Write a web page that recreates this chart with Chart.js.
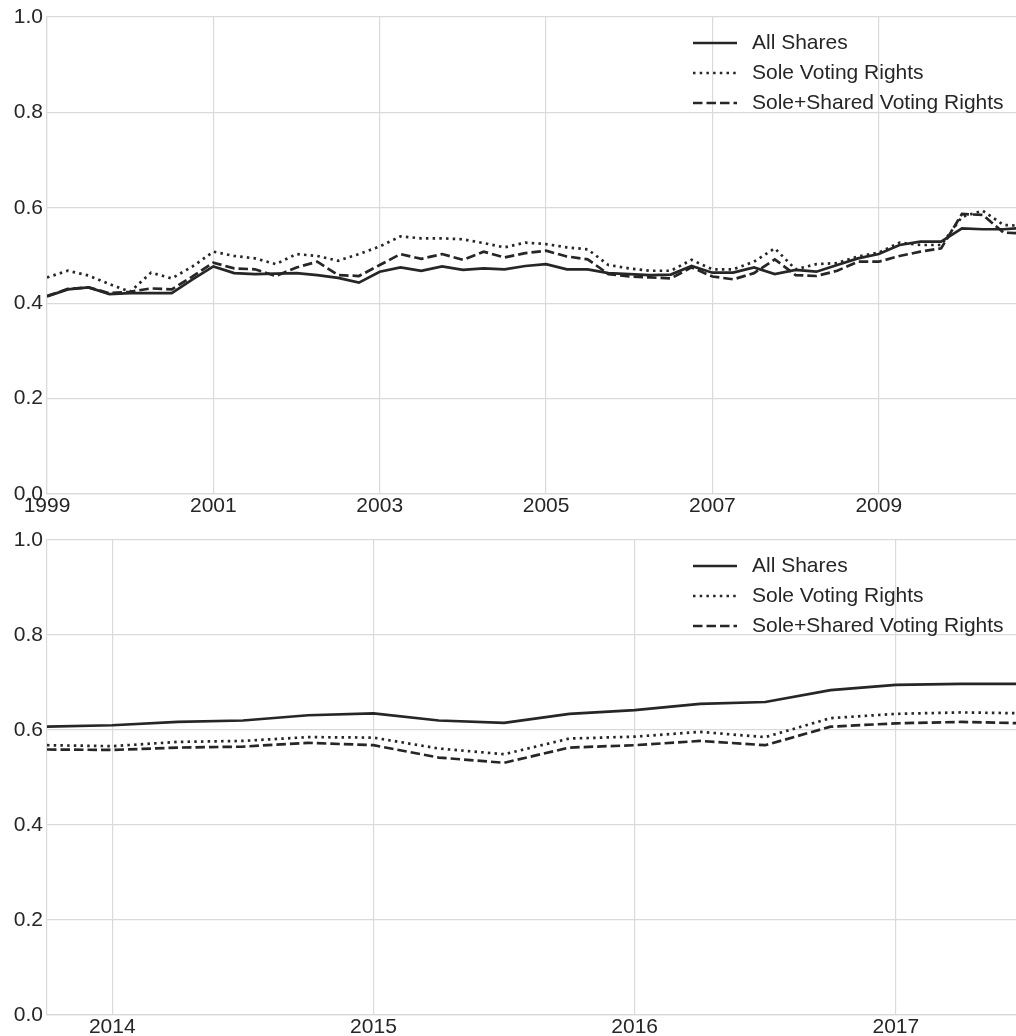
<!DOCTYPE html>
<html>
<head>
<meta charset="utf-8">
<script src="https://cdn.jsdelivr.net/npm/chart.js@4.4.1/dist/chart.umd.min.js"></script>
<style>
  html, body { margin: 0; padding: 0; background: #fff; overflow: hidden; }
  canvas { position: absolute; left: 0; }
  #c1 { top: 0; }
  #c2 { top: 520px; }
</style>
</head>
<body>
<canvas id="c1" width="1016" height="520"></canvas>
<canvas id="c2" width="1016" height="516"></canvas>
<script>
// top panel, quarterly 1999-2010
const quartersTop = [
  1999.00, 1999.25, 1999.50, 1999.75, 2000.00, 2000.25, 2000.50, 2000.75,
  2001.00, 2001.25, 2001.50, 2001.75, 2002.00, 2002.25, 2002.50, 2002.75,
  2003.00, 2003.25, 2003.50, 2003.75, 2004.00, 2004.25, 2004.50, 2004.75,
  2005.00, 2005.25, 2005.50, 2005.75, 2006.00, 2006.25, 2006.50, 2006.75,
  2007.00, 2007.25, 2007.50, 2007.75, 2008.00, 2008.25, 2008.50, 2008.75,
  2009.00, 2009.25, 2009.50, 2009.75, 2010.00, 2010.25, 2010.50, 2010.75
];
const allSharesTop = [
  0.414, 0.429, 0.433, 0.419, 0.421, 0.421, 0.421, 0.450,
  0.477, 0.463, 0.461, 0.462, 0.463, 0.459, 0.453, 0.443,
  0.466, 0.475, 0.468, 0.477, 0.470, 0.473, 0.471, 0.478,
  0.482, 0.471, 0.471, 0.463, 0.461, 0.459, 0.460, 0.478,
  0.464, 0.464, 0.475, 0.461, 0.470, 0.466, 0.480, 0.494,
  0.503, 0.522, 0.529, 0.529, 0.557, 0.555, 0.555, 0.558
];
const soleTop = [
  0.454, 0.468, 0.458, 0.440, 0.424, 0.464, 0.452, 0.477,
  0.508, 0.499, 0.494, 0.482, 0.503, 0.499, 0.489, 0.503,
  0.519, 0.540, 0.536, 0.536, 0.534, 0.526, 0.517, 0.527,
  0.524, 0.517, 0.513, 0.480, 0.473, 0.468, 0.468, 0.491,
  0.471, 0.471, 0.487, 0.515, 0.471, 0.482, 0.484, 0.498,
  0.506, 0.527, 0.522, 0.522, 0.581, 0.594, 0.564, 0.562
];
const soleSharedTop = [
  0.415, 0.430, 0.433, 0.421, 0.424, 0.431, 0.429, 0.456,
  0.485, 0.473, 0.471, 0.457, 0.475, 0.487, 0.459, 0.457,
  0.480, 0.503, 0.493, 0.503, 0.491, 0.508, 0.496, 0.505,
  0.510, 0.498, 0.492, 0.461, 0.456, 0.454, 0.452, 0.475,
  0.456, 0.450, 0.463, 0.492, 0.459, 0.457, 0.468, 0.487,
  0.487, 0.499, 0.508, 0.515, 0.587, 0.585, 0.548, 0.546
];
const yearTicksTop = [1999, 2001, 2003, 2005, 2007, 2009];

// bottom panel, quarterly 2013-2017
const quartersBottom = [
  2013.75, 2014.00, 2014.25, 2014.50, 2014.75, 2015.00, 2015.25, 2015.50,
  2015.75, 2016.00, 2016.25, 2016.50, 2016.75, 2017.00, 2017.25, 2017.50
];
const allSharesBottom = [
  0.607, 0.610, 0.617, 0.620, 0.631, 0.635, 0.620, 0.615,
  0.634, 0.642, 0.655, 0.659, 0.684, 0.695, 0.697, 0.697
];
const soleBottom = [
  0.568, 0.566, 0.575, 0.577, 0.585, 0.584, 0.561, 0.549,
  0.582, 0.586, 0.596, 0.585, 0.625, 0.634, 0.637, 0.635
];
const soleSharedBottom = [
  0.559, 0.558, 0.563, 0.565, 0.573, 0.568, 0.542, 0.531,
  0.563, 0.568, 0.577, 0.568, 0.607, 0.614, 0.617, 0.614
];
const yearTicksBottom = [2014, 2015, 2016, 2017];

const seriesNames = ['All Shares', 'Sole Voting Rights', 'Sole+Shared Voting Rights'];
const yTicks = [0, 0.2, 0.4, 0.6, 0.8, 1.0];

const INK = '#262626';
const GRID = '#dadada';
const FONT = '"Liberation Sans", Arial, sans-serif';

// legend drawn inside the plot, top right
const insideLegend = {
    id: 'insideLegend',
    afterDatasetsDraw(chart) {
        const { ctx, chartArea } = chart;
        ctx.save();
        chart.data.datasets.forEach((ds, i) => {
            const y = chartArea.top + 26 + i * 30;
            ctx.strokeStyle = ds.borderColor;
            ctx.lineWidth = ds.borderWidth;
            ctx.setLineDash(ds.borderDash || []);
            ctx.beginPath();
            ctx.moveTo(693, y);
            ctx.lineTo(737, y);
            ctx.stroke();
            ctx.setLineDash([]);
            ctx.fillStyle = INK;
            ctx.font = '21px ' + FONT;
            ctx.textBaseline = 'middle';
            ctx.fillText(ds.label, 752, y);
        });
        ctx.restore();
    }
};

function toPoints(xs, ys) {
    return xs.map((x, i) => ({ x, y: ys[i] }));
}

function makeChart(id, xs, series, xMin, xMax, yearTicks, padTop, xAxisHeight) {
    const dashes = [[], [2.5, 4.2], [9.5, 4]];
    return new Chart(document.getElementById(id), {
        type: 'line',
        data: {
            datasets: series.map((ys, i) => ({
                label: seriesNames[i],
                data: toPoints(xs, ys),
                borderColor: INK,
                borderWidth: 2.7,
                borderDash: dashes[i],
                pointRadius: 0,
                tension: 0,
                fill: false
            }))
        },
        options: {
            responsive: false,
            animation: false,
            layout: { padding: { top: padTop, right: 0, bottom: 0, left: 0 } },
            plugins: { legend: { display: false }, tooltip: { enabled: false } },
            scales: {
                x: {
                    type: 'linear',
                    min: xMin,
                    max: xMax,
                    afterBuildTicks: (scale) => { scale.ticks = yearTicks.map(v => ({ value: v })); },
                    afterFit: (scale) => { scale.height = xAxisHeight; },
                    grid: { color: GRID, lineWidth: 1.2, drawTicks: false },
                    border: { color: GRID, width: 1.2 },
                    ticks: { color: INK, font: { family: FONT, size: 21 }, padding: 0, maxRotation: 0, autoSkip: false,
                        callback: (v) => String(v) }
                },
                y: {
                    min: 0,
                    max: 1,
                    afterBuildTicks: (scale) => { scale.ticks = yTicks.map(v => ({ value: v })); },
                    afterFit: (scale) => { scale.width = 47; },
                    grid: { color: GRID, lineWidth: 1.2, drawTicks: false },
                    border: { color: GRID, width: 1.2 },
                    ticks: { color: INK, font: { family: FONT, size: 21 }, padding: 4,
                        callback: (v) => Number(v).toFixed(1) }
                }
            }
        },
        plugins: [insideLegend]
    });
}

makeChart('c1', quartersTop, [allSharesTop, soleTop, soleSharedTop], 1999, 2010.65, yearTicksTop, 17, 26);
makeChart('c2', quartersBottom, [allSharesBottom, soleBottom, soleSharedBottom], 2013.75, 2017.46, yearTicksBottom, 20, 21);
</script>
</body>
</html>
